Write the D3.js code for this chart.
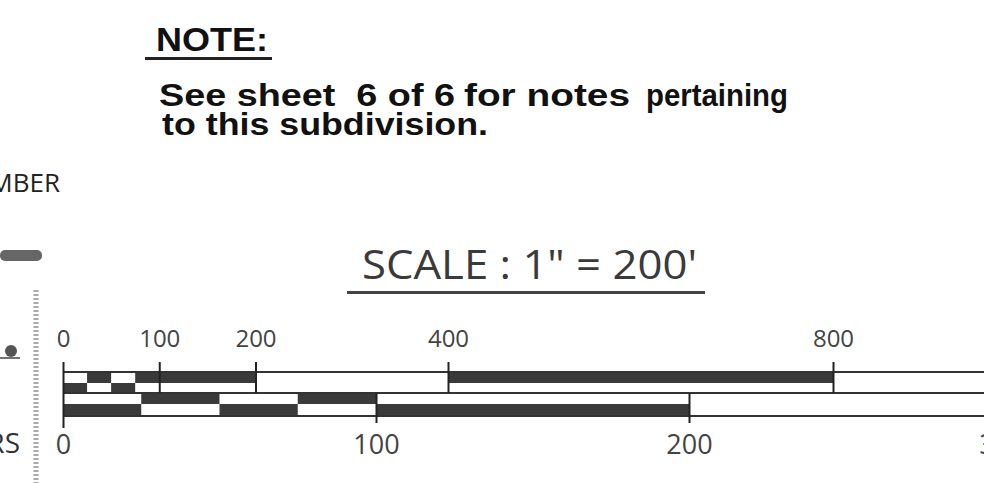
<!DOCTYPE html>
<html>
<head>
<meta charset="utf-8">
<script src="https://cdn.jsdelivr.net/npm/d3@7"></script>
<style>
  html, body { margin: 0; padding: 0; background: #fff; }
  svg { display: block; }
</style>
</head>
<body>
<div id="chart"></div>
<script>
const width = 984;
const height = 483;

// feet bar: segment stops and shading (1 = dark) for the two half rows
const feetStops = [0, 25, 50, 75, 100, 200, 400, 800, 1100];
const feetTop = [0, 1, 0, 1, 1, 0, 1, 0];
const feetBottom = [1, 0, 1, 0, 0, 0, 0, 0];
const feetTicks = [0, 100, 200, 400, 800];

// meters bar
const meterStops = [0, 25, 50, 75, 100, 200, 330];
const meterTop = [0, 1, 0, 1, 0, 0];
const meterBottom = [1, 0, 1, 0, 1, 0];
const meterTicks = [0, 100, 200, 300];

const noteLines = ["See sheet  6 of 6", "for notes", "pertaining", "to this subdivision."];

const dark = "#3a3a3a";

const xFeet = d3.scaleLinear().domain([0, 800]).range([63, 833]);
const xMeter = d3.scaleLinear().domain([0, 200]).range([63, 689]);

const svg = d3.select("#chart")
    .append("svg")
    .attr("width", width)
    .attr("height", height);

// note block
svg.append("text")
    .attr("x", 156).attr("y", 51)
    .attr("textLength", 112).attr("lengthAdjust", "spacingAndGlyphs")
    .style("font-family", "'Liberation Sans Narrow', 'Liberation Sans', sans-serif")
    .style("font-weight", "bold").style("font-size", "33px")
    .attr("fill", "#111")
    .text("NOTE:");
svg.append("rect").attr("x", 145).attr("y", 57).attr("width", 127).attr("height", 3).attr("fill", "#222");

const notePos = [[159, 106, 296], [464, 106, 166], [646, 106, 142], [162, 135, 326]];
svg.selectAll(".note")
    .data(noteLines)
    .enter()
    .append("text")
    .attr("class", "note")
    .attr("x", (d, i) => notePos[i][0])
    .attr("y", (d, i) => notePos[i][1])
    .attr("textLength", (d, i) => notePos[i][2])
    .attr("lengthAdjust", "spacingAndGlyphs")
    .style("white-space", "pre")
    .style("font-family", "'Liberation Sans', sans-serif")
    .style("font-weight", "bold").style("font-size", "31px")
    .attr("fill", "#111")
    .text(d => d);

// cut-off labels at the left edge
svg.append("text")
    .attr("x", 60).attr("y", 192).attr("text-anchor", "end")
    .style("font-family", "'Open Sans', sans-serif").style("font-size", "26px")
    .attr("fill", "#222")
    .text("NUMBER");
svg.append("text")
    .attr("x", 20).attr("y", 453).attr("text-anchor", "end")
    .style("font-family", "'Open Sans', sans-serif").style("font-size", "28px")
    .attr("fill", "#333")
    .text("METERS");

// scan marks on the left
svg.append("rect").attr("x", 0).attr("y", 250).attr("width", 42).attr("height", 11).attr("rx", 5).attr("fill", "#666");
svg.append("line").attr("x1", 36).attr("x2", 36).attr("y1", 290).attr("y2", 483)
    .attr("stroke", "#aaa").attr("stroke-width", 5).attr("stroke-dasharray", "2,2");
svg.append("ellipse").attr("cx", 11).attr("cy", 351).attr("rx", 6).attr("ry", 6).attr("fill", "#555");
svg.append("line").attr("x1", 0).attr("x2", 20).attr("y1", 358).attr("y2", 358).attr("stroke", "#444").attr("stroke-width", 1.5);

// scale title
svg.append("text")
    .attr("x", 362).attr("y", 279)
    .attr("textLength", 335).attr("lengthAdjust", "spacingAndGlyphs")
    .style("font-family", "'Open Sans', sans-serif").style("font-size", "40px")
    .attr("fill", "#3a3a3a")
    .text("SCALE : 1\" = 200'");
svg.append("rect").attr("x", 347).attr("y", 291).attr("width", 358).attr("height", 3).attr("fill", "#444");

// bar cells
function cells(stops, top, bottom, y0, ymid, y1) {
    const out = [];
    for (let i = 0; i < stops.length - 1; i++) {
        if (top[i]) out.push({a: stops[i], b: stops[i + 1], y: y0, h: ymid - y0});
        if (bottom[i]) out.push({a: stops[i], b: stops[i + 1], y: ymid, h: y1 - ymid});
    }
    return out;
}

const feetCells = cells(feetStops, feetTop, feetBottom, 371, 383, 393);
const meterCells = cells(meterStops, meterTop, meterBottom, 393, 404, 416);

svg.selectAll(".fcell")
    .data(feetCells)
    .enter()
    .append("rect")
    .attr("class", "fcell")
    .attr("x", d => xFeet(d.a))
    .attr("y", d => d.y)
    .attr("width", d => xFeet(d.b) - xFeet(d.a))
    .attr("height", d => d.h)
    .attr("fill", dark);

svg.selectAll(".mcell")
    .data(meterCells)
    .enter()
    .append("rect")
    .attr("class", "mcell")
    .attr("x", d => xMeter(d.a))
    .attr("y", d => d.y)
    .attr("width", d => xMeter(d.b) - xMeter(d.a))
    .attr("height", d => d.h)
    .attr("fill", dark);

// outline of the bars
[372, 393, 416].forEach(y => {
    svg.append("line")
        .attr("x1", xFeet(0)).attr("x2", width)
        .attr("y1", y).attr("y2", y)
        .attr("stroke", "#333").attr("stroke-width", 2);
});

// feet axis
const feetAxis = svg.append("g")
    .attr("transform", "translate(0,393)")
    .call(d3.axisTop(xFeet).tickValues(feetTicks).tickSize(31).tickPadding(15).tickFormat(d3.format("d")));
feetAxis.select(".domain").remove();
feetAxis.selectAll("line").attr("stroke", "#222").attr("stroke-width", 2);
feetAxis.selectAll("text")
    .style("font-family", "'Open Sans', sans-serif").style("font-size", "24px")
    .attr("fill", "#444");

// meter axis
const meterAxis = svg.append("g")
    .attr("transform", "translate(0,393)")
    .call(d3.axisBottom(xMeter).tickValues(meterTicks).tickSize(30).tickPadding(12).tickFormat(d3.format("d")));
meterAxis.select(".domain").remove();
meterAxis.selectAll("line")
    .attr("stroke", "#222").attr("stroke-width", 2)
    .attr("y2", d => d === 0 ? 35 : (d === 300 ? 0 : 30));
meterAxis.selectAll("text")
    .style("font-family", "'Open Sans', sans-serif").style("font-size", "27px")
    .attr("fill", "#444");
</script>
</body>
</html>
